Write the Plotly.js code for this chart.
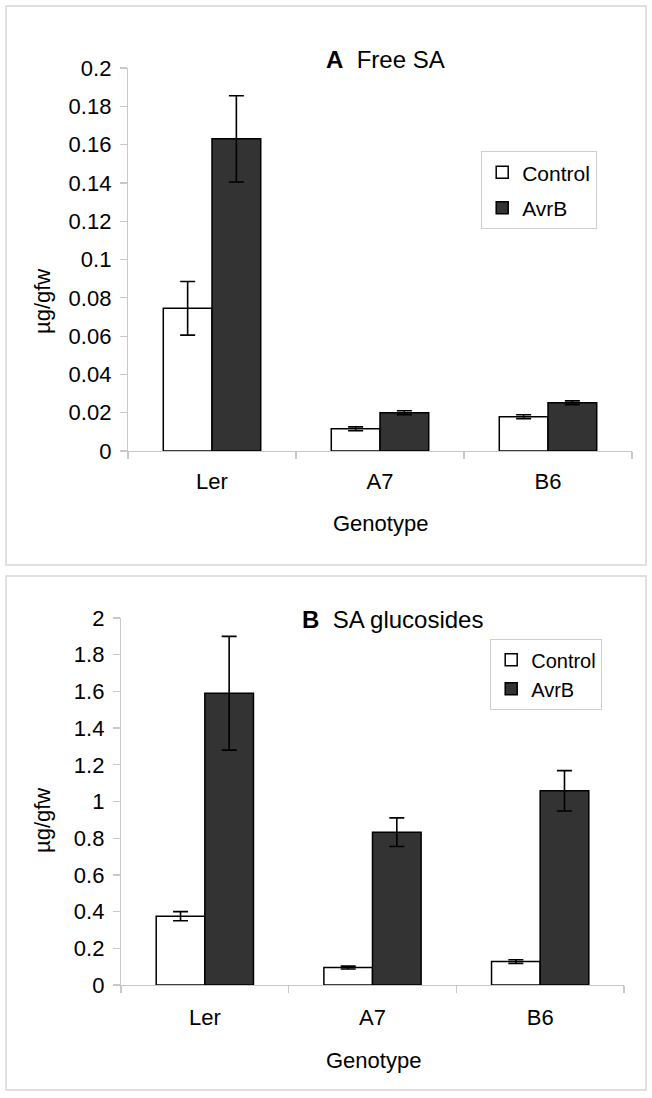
<!DOCTYPE html>
<html>
<head>
<meta charset="utf-8">
<script src="https://cdn.plot.ly/plotly-3.0.1.min.js"></script>
<style>
  html, body { margin: 0; padding: 0; background: #ffffff; }
  #chart { width: 652px; height: 1098px; }
</style>
</head>
<body>
<div id="chart"></div>
<script>
// ---- Data ----
const genotypes = ["Ler", "A7", "B6"];
const seriesNames = ["Control", "AvrB"];

// Panel A: Free SA (µg/gfw)
const freeControl    = [0.0745, 0.0116, 0.0179];
const freeControlErr = [0.014, 0.001, 0.001];
const freeAvrB       = [0.163, 0.020, 0.0252];
const freeAvrBErr    = [0.0225, 0.001, 0.001];

// Panel B: SA glucosides (µg/gfw)
const glucControl    = [0.375, 0.095, 0.128];
const glucControlErr = [0.025, 0.008, 0.01];
const glucAvrB       = [1.59, 0.833, 1.058];
const glucAvrBErr    = [0.31, 0.078, 0.11];

// Tick labels
const yTickValsA = [0, 0.02, 0.04, 0.06, 0.08, 0.1, 0.12, 0.14, 0.16, 0.18, 0.2];
const yTickTextA = ["0", "0.02", "0.04", "0.06", "0.08", "0.1", "0.12", "0.14", "0.16", "0.18", "0.2"];
const yTickValsB = [0, 0.2, 0.4, 0.6, 0.8, 1, 1.2, 1.4, 1.6, 1.8, 2];
const yTickTextB = ["0", "0.2", "0.4", "0.6", "0.8", "1", "1.2", "1.4", "1.6", "1.8", "2"];

// ---- Styling ----
const W = 652, H = 1098;
const FONT = "Liberation Sans, Arial, Helvetica, sans-serif";
const px = v => v / W;
const py = v => 1 - v / H;
const controlFill = "#ffffff";
const avrbFill = "#333333";
const axisGray = "#c8c8c8";
const TICK_SIZE = 22;

function barTrace(name, y, err, fill, xa, ya, legendId, group) {
  return {
    type: "bar",
    name: name,
    x: genotypes,
    y: y,
    xaxis: xa,
    yaxis: ya,
    legend: legendId,
    legendgroup: group,
    marker: { color: fill, line: { color: "#000000", width: 1.5 } },
    error_y: { type: "data", array: err, visible: true, color: "#000000", thickness: 1.6, width: 7.5 },
    hoverinfo: "skip"
  };
}

const data = [
  barTrace(seriesNames[0], freeControl, freeControlErr, controlFill, "x", "y", "legend", "a1"),
  barTrace(seriesNames[1], freeAvrB, freeAvrBErr, avrbFill, "x", "y", "legend", "a2"),
  barTrace(seriesNames[0], glucControl, glucControlErr, controlFill, "x2", "y2", "legend2", "b1"),
  barTrace(seriesNames[1], glucAvrB, glucAvrBErr, avrbFill, "x2", "y2", "legend2", "b2")
];

function xAxis(domain, anchor, standoff) {
  return {
    domain: domain,
    anchor: anchor,
    type: "category",
    range: [-0.5, 2.5],
    showline: true,
    linecolor: axisGray,
    linewidth: 1.2,
    ticks: "outside",
    tickson: "boundaries",
    ticklen: 7,
    tickcolor: axisGray,
    tickwidth: 1.2,
    ticklabelstandoff: standoff,
    showgrid: false,
    zeroline: false,
    tickfont: { family: FONT, size: TICK_SIZE, color: "#000000" },
    fixedrange: true
  };
}
function yAxis(domain, anchor, range, vals, text) {
  return {
    domain: domain,
    anchor: anchor,
    range: range,
    tickmode: "array",
    tickvals: vals,
    ticktext: text,
    showline: true,
    linecolor: axisGray,
    linewidth: 1.2,
    ticks: "outside",
    ticklen: 7,
    tickcolor: axisGray,
    tickwidth: 1.2,
    ticklabelstandoff: 4,
    showgrid: false,
    zeroline: false,
    tickfont: { family: FONT, size: TICK_SIZE, color: "#000000" },
    fixedrange: true
  };
}

const legendCommon = {
  xanchor: "left",
  yanchor: "top",
  bgcolor: "#ffffff",
  bordercolor: "#cfcfcf",
  borderwidth: 1.2,
  orientation: "v",
  traceorder: "grouped",
  itemclick: false,
  itemdoubleclick: false
};

const layout = {
  width: W,
  height: H,
  margin: { l: 0, r: 0, t: 0, b: 0, pad: 0 },
  paper_bgcolor: "#ffffff",
  plot_bgcolor: "rgba(0,0,0,0)",
  font: { family: FONT, size: TICK_SIZE, color: "#000000" },
  barmode: "group",
  bargap: 0.42,
  bargroupgap: 0,
  showlegend: true,
  xaxis: xAxis([px(128), px(632)], "y", 10),
  yaxis: yAxis([py(451), py(68)], "x", [0, 0.2], yTickValsA, yTickTextA),
  xaxis2: xAxis([px(121), px(624)], "y2", 12),
  yaxis2: yAxis([py(985), py(618)], "x2", [0, 2], yTickValsB, yTickTextB),
  legend: Object.assign({}, legendCommon, {
    x: px(481), y: py(151),
    font: { family: FONT, size: 21, color: "#000000" },
    tracegroupgap: 5
  }),
  legend2: Object.assign({}, legendCommon, {
    x: px(490), y: py(639),
    font: { family: FONT, size: 20, color: "#000000" },
    tracegroupgap: 0
  }),
  shapes: [
    { type: "rect", xref: "paper", yref: "paper", x0: px(6), x1: px(646), y0: py(565), y1: py(6),
      line: { color: "#d6d6d6", width: 1.5 }, fillcolor: "rgba(0,0,0,0)", layer: "below" },
    { type: "rect", xref: "paper", yref: "paper", x0: px(6), x1: px(646), y0: py(1090), y1: py(576),
      line: { color: "#d6d6d6", width: 1.5 }, fillcolor: "rgba(0,0,0,0)", layer: "below" }
  ],
  annotations: [
    { xref: "paper", yref: "paper", x: px(385), y: py(60), xanchor: "center", yanchor: "middle",
      showarrow: false, text: "<b>A</b>\u00a0\u00a0Free SA", font: { family: FONT, size: 24, color: "#000000" } },
    { xref: "paper", yref: "paper", x: px(392), y: py(619), xanchor: "center", yanchor: "middle",
      showarrow: false, text: "<b>B</b>\u00a0\u00a0SA glucosides", font: { family: FONT, size: 24, color: "#000000" } },
    { xref: "paper", yref: "paper", x: px(42), y: py(302), xanchor: "center", yanchor: "middle",
      showarrow: false, textangle: -90, text: "µg/gfw", font: { family: FONT, size: 22, color: "#000000" } },
    { xref: "paper", yref: "paper", x: px(42), y: py(821), xanchor: "center", yanchor: "middle",
      showarrow: false, textangle: -90, text: "µg/gfw", font: { family: FONT, size: 22, color: "#000000" } },
    { xref: "paper", yref: "paper", x: px(380), y: py(523), xanchor: "center", yanchor: "middle",
      showarrow: false, text: "Genotype", font: { family: FONT, size: 22, color: "#000000" } },
    { xref: "paper", yref: "paper", x: px(373), y: py(1060), xanchor: "center", yanchor: "middle",
      showarrow: false, text: "Genotype", font: { family: FONT, size: 22, color: "#000000" } }
  ]
};

Plotly.newPlot("chart", data, layout, { staticPlot: true, displayModeBar: false });
</script>
</body>
</html>
